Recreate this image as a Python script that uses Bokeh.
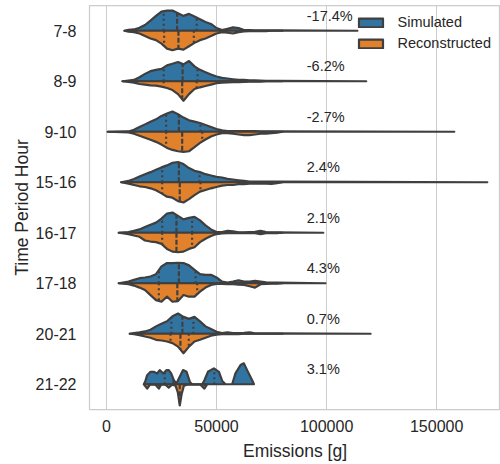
import numpy as np
from bokeh.plotting import figure
from bokeh.models import (Range1d, FixedTicker, BasicTickFormatter, Legend,
                          LegendItem, ColumnDataSource)
from bokeh.embed import file_html
from bokeh.resources import INLINE
from bokeh.core.properties import value

# ---------------------------------------------------------------- data
HOURS = ["7-8", "8-9", "9-10", "15-16", "16-17", "17-18", "20-21", "21-22"]
PCT_LABELS = ["-17.4%", "-6.2%", "-2.7%", "2.4%", "2.1%", "4.3%", "0.7%", "3.1%"]

# emission grid (thousands of grams) on which the violin half-widths are given
GRID_K = [10.0, 12.5, 15.0, 17.5, 20.0, 22.5, 25.0, 27.5, 30.0, 32.5, 35.0, 37.5,
          40.0, 42.5, 45.0, 47.5, 50.0, 52.5, 55.0, 57.5, 60.0, 62.5, 65.0, 67.5,
          70.0, 72.5, 75.0, 77.5]

# half-widths (relative density, 20 = widest) of the simulated / reconstructed halves
SIM_7_8 = [1, 1.3, 3, 5.7, 10, 14.7, 19, 20, 20, 17.3, 14.7, 16.7, 14, 11.3, 8.7, 6.7,
           2.7, 0.7, 2, 3.3, 2.7, 0.7, 0.7, 0.5, 0.5, 0.3, 0.3, 0.3]
REC_7_8 = [1, 1.3, 2.7, 5.3, 7.7, 9.3, 12.7, 17.7, 19.3, 17.7, 18.7, 15.3, 12, 9.3, 7.7,
           5.3, 2.7, 1.3, 2, 2.7, 1.3, 0.7, 0.5, 0.5, 0.3, 0.3, 0, 0]
SIM_8_9 = [0.7, 1.3, 4, 7.3, 10, 11.3, 12.3, 15.7, 17.3, 19, 16.7, 20, 14.7, 11.3, 9, 6.7,
           4.7, 3.3, 2.7, 2, 1.3, 1.3, 1, 0.8, 0.7, 0.5, 0.3, 0.3]
REC_8_9 = [0.7, 1.3, 2.7, 3.3, 4, 4.3, 5.3, 6.7, 8.7, 12.7, 19.3, 12.7, 7.7, 6, 4.7, 3.3,
           2, 1.3, 1.2, 1, 0.8, 0.7, 0.5, 0.3, 0.3, 0, 0, 0]
SIM_9_10 = [0.3, 2, 4.7, 7.3, 10, 12.3, 15.7, 18, 20, 17.3, 14, 11.3, 10, 8.7, 6.7, 4.7,
            2.7, 1.3, 0.7, 0.6, 0.6, 0.7, 0.7, 0.6, 0.5, 0.4, 0.3, 0.3]
REC_9_10 = [0.7, 2, 4, 6, 8, 10, 12.7, 16, 18, 19.3, 20, 19.3, 15.3, 11, 7.7, 4.7, 2.7,
            1.3, 1.3, 2, 2.7, 3.3, 3.3, 2.7, 2, 2, 1.3, 1]
SIM_15_16 = [1.3, 3.3, 5.7, 8, 10, 12.3, 14.7, 16.7, 19.3, 20, 18, 14, 11.3, 10, 8, 6.7,
             5.3, 4.7, 3.3, 2.7, 2, 1.3, 0.7, 0.7, 0.7, 0.7, 0.7, 0.6]
REC_15_16 = [1.3, 2.7, 4, 4.7, 6, 8, 11, 14.3, 15.3, 18.7, 20, 16.7, 12.7, 9.3, 7.7, 6,
             4.7, 3.3, 2.7, 2.7, 2, 2, 1.3, 1.3, 1.3, 1.5, 1.7, 1]
SIM_16_17 = [0.7, 2, 3.3, 5.7, 8, 10, 14, 19, 20, 16.7, 13.3, 14.7, 15.7, 12.3, 7.3, 3.3,
             0.7, 0.7, 2, 1.3, 0.5, 0.5, 0.7, 0.8, 2, 0.7, 0.5, 0.5]
REC_16_17 = [1.3, 2.7, 4, 7.7, 8.7, 9.3, 11, 16, 18.7, 19.3, 18.7, 16, 14.3, 9.3, 6, 3.3,
             1.3, 0.7, 0.5, 0.5, 0.5, 0.5, 0.5, 0.5, 1.5, 0.5, 0.3, 0.3]
SIM_17_18 = [1.7, 3.3, 5, 5.7, 6.7, 9, 16.7, 20, 20, 20.3, 20, 17.7, 13.3, 9, 8.3, 8.3,
             5.7, 1.7, 0.7, 1.7, 3, 1.7, 1.7, 2.3, 1.7, 1, 0.7, 0.7]
REC_17_18 = [1, 2.3, 4.3, 6.7, 11.7, 16.7, 18.3, 13.3, 18.3, 17.7, 11.7, 13.3, 13.3, 8.3,
             4.3, 1.7, 0.7, 0.7, 0.8, 1, 1.3, 1.7, 3, 4.3, 1, 0.7, 0.5, 0.5]
SIM_20_21 = [0, 0.7, 1.3, 2.3, 4, 7.3, 10, 12.3, 17.3, 20, 16.7, 14.7, 16.7, 12.3, 7.3,
             4.7, 2, 0.7, 1.3, 0.6, 0.6, 0.8, 1.3, 0.5, 0.5, 0.5, 0.4, 0.4]
REC_20_21 = [0, 0.5, 1.3, 2.7, 4, 6, 6.7, 7.7, 9.3, 12.7, 19.3, 12.7, 7.7, 6, 4, 2, 1,
             0.5, 0.3, 0.3, 0.3, 0, 0, 0, 0, 0, 0, 0]

# 21-22 has few trips, so its halves are sampled on their own positions
X_21_22_SIM = [17.0, 17.7, 18.5, 20.0, 21.5, 23.0, 24.2, 25.8, 27.3, 28.3, 29.4, 30.6,
               31.8, 32.9, 34.8, 36.4, 37.9, 38.9, 43.5, 44.5, 46.1, 48.8, 51.1, 52.6,
               54.1, 57.1, 58.6, 60.9, 62.4, 63.9, 66.2, 67.0]
SIM_21_22 = [0, 3.3, 9, 12.3, 12.3, 10.7, 14, 10.7, 14, 14, 10.7, 4, 0.7, 5.7, 14, 12.3,
             2.3, 0, 0, 4, 12.3, 15.7, 12.3, 3.3, 0, 0, 10.7, 19, 20.7, 14, 4, 0]
X_21_22_REC = [17.0, 18.5, 19.7, 22.3, 23.8, 24.8, 26.8, 28.3, 29.8, 31.4, 32.4, 33.3,
               34.2, 35.2, 36.7, 42.7, 44.5, 45.8]
REC_21_22 = [0, 4.3, 0.5, 0.5, 4.3, 0.5, 0.5, 3.3, 0.5, 1.5, 7.7, 21, 9.3, 1.5, 0.5,
             0.5, 4.3, 0]

# support of each hour (thousands of grams)
MIN_K = [8.2, 7.3, 0.6, 6.7, 5.6, 5.6, 10.6, 17.0]
MAX_K = [114.0, 118.0, 158.0, 173.0, 98.5, 99.5, 120.0, 67.0]
REC_MAX_K = [80.0, 80.0, 80.0, 80.0, 80.0, 80.0, 80.0, 45.8]

# quartiles (thousands of grams)
SIM_Q1 = [26.0, 26.0, 27.1, 25.3, 25.3, 23.8, 29.5, 26.5]
SIM_MED = [32.1, 34.6, 32.9, 32.9, 31.8, 32.9, 34.5, 30.5]
SIM_Q3 = [41.0, 41.4, 42.7, 42.3, 38.9, 40.5, 39.5, 49.0]
REC_Q1 = [26.2, 26.0, 27.1, 25.3, 25.3, 23.8, 29.1, 23.8]
REC_MED = [32.7, 34.4, 34.4, 33.3, 31.8, 32.2, 33.6, 33.3]
REC_Q3 = [39.7, 41.0, 43.5, 42.7, 38.9, 41.2, 37.4, 44.5]

SIM_PROFILES = [SIM_7_8, SIM_8_9, SIM_9_10, SIM_15_16, SIM_16_17, SIM_17_18, SIM_20_21]
REC_PROFILES = [REC_7_8, REC_8_9, REC_9_10, REC_15_16, REC_16_17, REC_17_18, REC_20_21]

# ---------------------------------------------------------------- style
BLUE = "#3274a1"
ORANGE = "#e1812c"
EDGE = "#3f3f3f"
TEXT = "#262626"
FONT = "Liberation Sans"
HALF = 0.4          # widest half-violin, in category units
SCALE = HALF / 20.0

p = figure(width=500, height=464, output_backend="svg", toolbar_location=None,
           x_range=Range1d(-7700, 179000), y_range=Range1d(7.5, -0.5),
           min_border_left=89, min_border_right=0, min_border_top=5,
           min_border_bottom=55)
p.background_fill_color = "white"
p.border_fill_color = "white"
p.outline_line_color = "#cccccc"
p.outline_line_width = 1.25


def half_polygon(xk, hk, lo, hi):
    xk = np.asarray(xk, float)
    hk = np.asarray(hk, float)
    inner = xk[(xk > lo) & (xk < hi)]
    xs = np.concatenate([[lo], inner, [hi]])
    hs = np.interp(xs, xk, hk, left=0.0, right=0.0)
    hs[0] = 0.0
    hs[-1] = 0.0
    return xs * 1000.0, hs * SCALE


sim_renderer = None
rec_renderer = None
seg_sim = {"x": [], "y0": [], "y1": [], "kind": []}
seg_rec = {"x": [], "y0": [], "y1": [], "kind": []}

for i, hour in enumerate(HOURS):
    if hour == "21-22":
        sx, sh = half_polygon(X_21_22_SIM, SIM_21_22, MIN_K[i], MAX_K[i])
        rx, rh = half_polygon(X_21_22_REC, REC_21_22, MIN_K[i], REC_MAX_K[i])
    else:
        sx, sh = half_polygon(GRID_K, SIM_PROFILES[i], MIN_K[i], MAX_K[i])
        rx, rh = half_polygon(GRID_K, REC_PROFILES[i], MIN_K[i], REC_MAX_K[i])

    # upper half: simulated
    r = p.patch(np.concatenate([sx, sx[::-1]]),
                np.concatenate([i - sh, np.full(len(sx), float(i))]),
                fill_color=BLUE, line_color=EDGE, line_width=2.2, line_join="round")
    sim_renderer = sim_renderer or r
    # lower half: reconstructed
    r = p.patch(np.concatenate([rx, rx[::-1]]),
                np.concatenate([i + rh, np.full(len(rx), float(i))]),
                fill_color=ORANGE, line_color=EDGE, line_width=2.2, line_join="round")
    rec_renderer = rec_renderer or r

    for kind, q in (("q", SIM_Q1[i]), ("m", SIM_MED[i]), ("q", SIM_Q3[i])):
        h = np.interp(q * 1000.0, sx, sh)
        seg_sim["x"].append(q * 1000.0)
        seg_sim["y0"].append(float(i))
        seg_sim["y1"].append(i - h)
        seg_sim["kind"].append(kind)
    for kind, q in (("q", REC_Q1[i]), ("m", REC_MED[i]), ("q", REC_Q3[i])):
        h = np.interp(q * 1000.0, rx, rh)
        seg_rec["x"].append(q * 1000.0)
        seg_rec["y0"].append(float(i))
        seg_rec["y1"].append(i + h)
        seg_rec["kind"].append(kind)

# quartile / median lines inside each half
for seg in (seg_sim, seg_rec):
    for kind, dash in (("q", "2 3"), ("m", "5 2")):
        idx = [j for j, k in enumerate(seg["kind"]) if k == kind]
        src = ColumnDataSource(dict(x=[seg["x"][j] for j in idx],
                                    y0=[seg["y0"][j] for j in idx],
                                    y1=[seg["y1"][j] for j in idx]))
        p.segment(x0="x", x1="x", y0="y0", y1="y1", source=src,
                  line_color=EDGE, line_width=2.2, line_dash=dash)

# percentage annotations
lab_src = ColumnDataSource(dict(x=[91000] * len(HOURS),
                                y=[i - 0.3 for i in range(len(HOURS))],
                                t=PCT_LABELS))
p.text(x="x", y="y", text="t", source=lab_src, text_font=value(FONT),
       text_font_size="14.5px", text_color=TEXT, text_align="left",
       text_baseline="middle")

legend = Legend(items=[LegendItem(label="Simulated", renderers=[sim_renderer]),
                       LegendItem(label="Reconstructed", renderers=[rec_renderer])],
                location="top_right", margin=9, padding=9, spacing=5,
                glyph_width=30, glyph_height=11, label_standoff=12,
                label_height=16, label_text_font=FONT,
                label_text_font_size="14.5px", label_text_color=TEXT,
                background_fill_alpha=0, border_line_color=None)
p.add_layout(legend)

# axes
p.xaxis.ticker = FixedTicker(ticks=[0, 50000, 100000, 150000])
p.xaxis.formatter = BasicTickFormatter(use_scientific=False)
p.yaxis.ticker = FixedTicker(ticks=list(range(len(HOURS))))
p.yaxis.major_label_overrides = {i: h for i, h in enumerate(HOURS)}
p.xaxis.axis_label = "Emissions [g]"
p.yaxis.axis_label = "Time Period Hour"
for ax in (p.xaxis, p.yaxis):
    ax.axis_line_color = None
    ax.major_tick_line_color = None
    ax.minor_tick_line_color = None
    ax.major_label_text_font = FONT
    ax.major_label_text_font_size = "16px"
    ax.major_label_text_color = TEXT
    ax.axis_label_text_font = FONT
    ax.axis_label_text_font_size = "17.5px"
    ax.axis_label_text_font_style = "normal"
    ax.axis_label_text_color = TEXT
p.xaxis.major_label_standoff = 4
p.xaxis.axis_label_standoff = 6
p.yaxis.major_label_standoff = 7
p.yaxis.axis_label_standoff = 1

p.xgrid.grid_line_color = "#cccccc"
p.xgrid.grid_line_width = 1
p.ygrid.grid_line_color = None

open("out.html", "w").write(file_html(p, INLINE))
